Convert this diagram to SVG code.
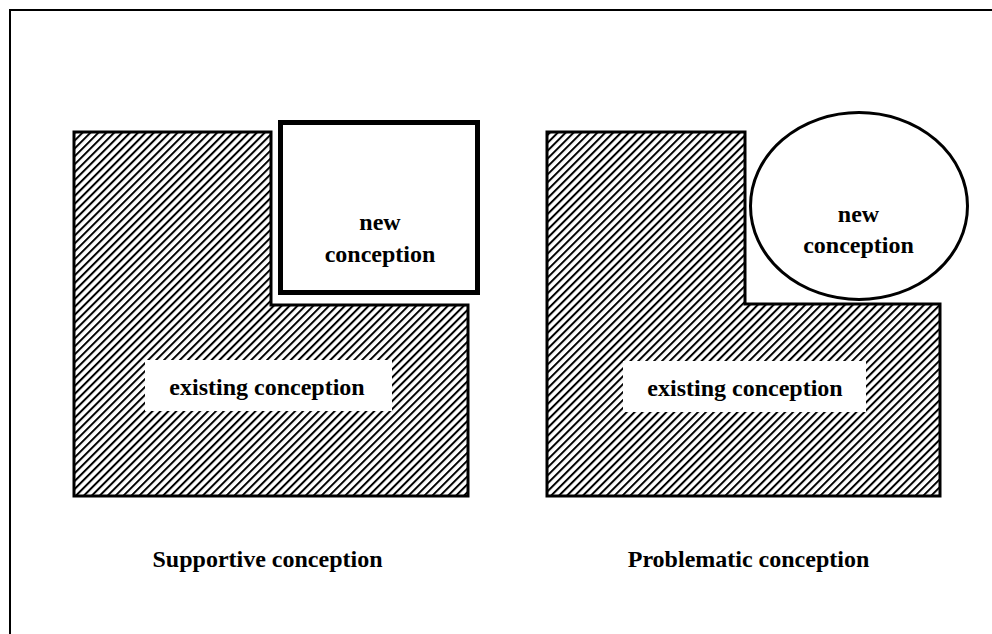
<svg xmlns="http://www.w3.org/2000/svg" width="992" height="634" viewBox="0 0 992 634">
<style>
.lbl{font-family:"Liberation Serif","Times New Roman",serif;font-weight:bold;font-size:24px;fill:#000;text-anchor:middle}
.hatch{fill:url(#diag);stroke:#000;stroke-width:3}
.box{fill:#fff;stroke:#000}
.pad{fill:#fff;stroke:none}
</style>
<defs>
<pattern id="diag" patternUnits="userSpaceOnUse" width="5.6" height="10" patternTransform="rotate(45)">
<rect x="0" y="0" width="5.6" height="10" fill="#fff"/>
<rect x="0" y="0" width="2" height="10" fill="#000"/>
</pattern>
</defs>
<rect x="0" y="0" width="992" height="634" fill="#fff"/>
<path d="M10,634 V10 H992" fill="none" stroke="#000" stroke-width="2"/>

<g id="left-existing">
<path class="hatch" d="M74,132 H271 V305 H468 V496 H74 Z"/>
<rect class="pad" x="145" y="360" width="247" height="51"/>
<text class="lbl" x="267" y="395">existing conception</text>
</g>
<g id="left-new">
<rect class="box" x="280.5" y="122.5" width="197" height="170" stroke-width="5"/>
<text class="lbl" x="380" y="230">new</text>
<text class="lbl" x="380" y="262">conception</text>
</g>
<g id="left-caption">
<text class="lbl" x="267.5" y="567">Supportive conception</text>
</g>

<g id="right-existing">
<path class="hatch" d="M547,132 H745 V304 H940 V496 H547 Z"/>
<rect class="pad" x="623" y="361" width="243" height="51"/>
<text class="lbl" x="745" y="396">existing conception</text>
</g>
<g id="right-new">
<ellipse class="box" cx="859" cy="206" rx="108.5" ry="93.5" stroke-width="3"/>
<text class="lbl" x="858.5" y="222">new</text>
<text class="lbl" x="858.5" y="253">conception</text>
</g>
<g id="right-caption">
<text class="lbl" x="748.5" y="567">Problematic conception</text>
</g>
<g id="connectors"></g>
</svg>
